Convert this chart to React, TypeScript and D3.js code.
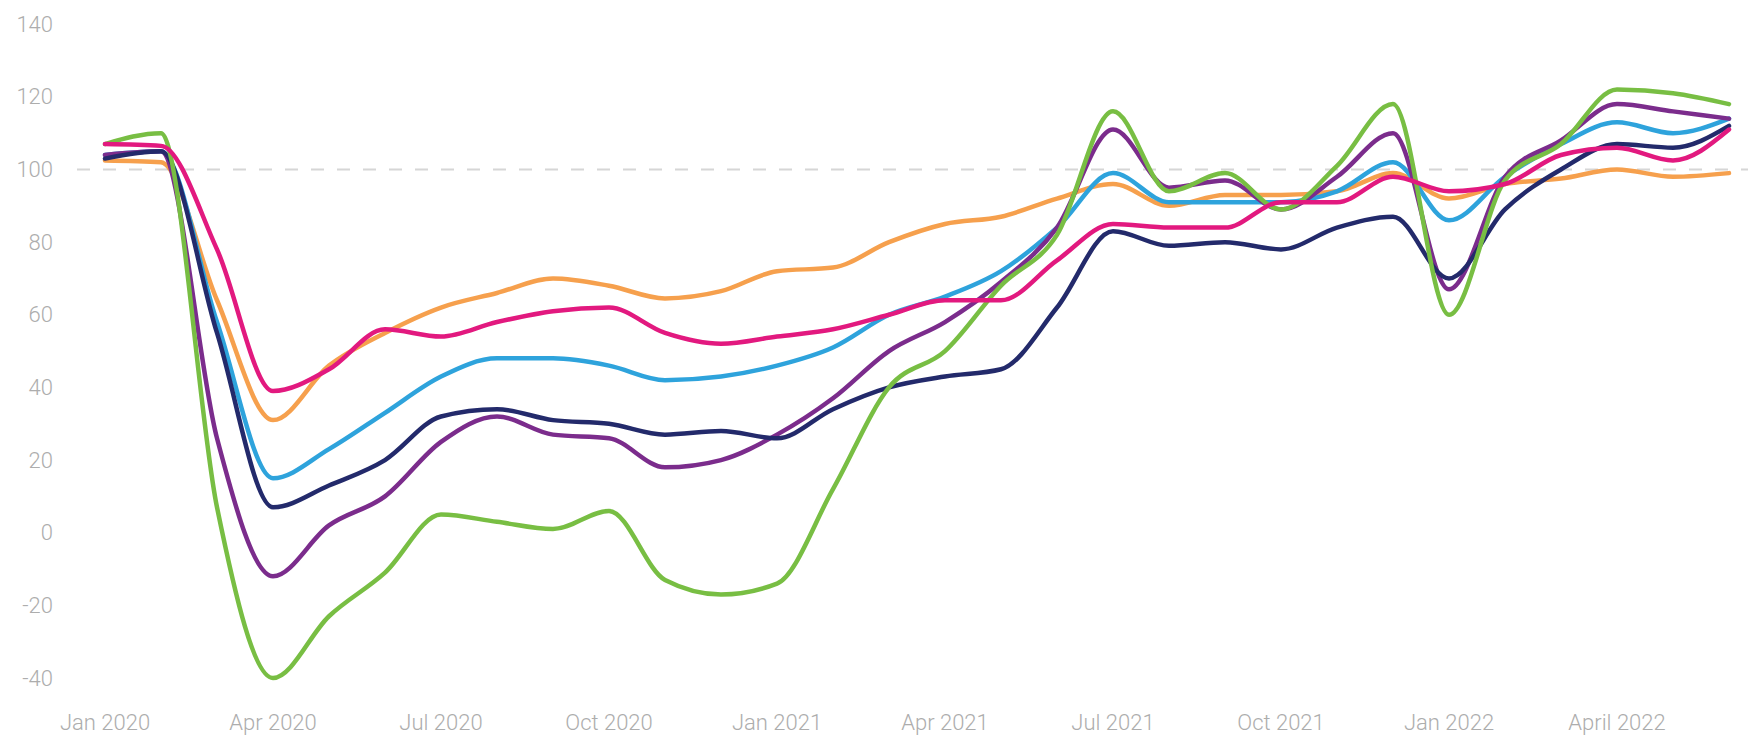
import React from "react";
import * as d3 from "d3";

const months: string[] = [
  "2020-01","2020-02","2020-03","2020-04","2020-05","2020-06","2020-07","2020-08","2020-09","2020-10","2020-11","2020-12",
  "2021-01","2021-02","2021-03","2021-04","2021-05","2021-06","2021-07","2021-08","2021-09","2021-10","2021-11","2021-12",
  "2022-01","2022-02","2022-03","2022-04","2022-05","2022-06",
];

const orange = [102.5,102,64,31,46,55,62,66,70,68,64.5,66.5,72,73,80,85,87,92,96,90,93,93,94,99,92,96,97.5,100,98,99];
const blue = [104,105,58,15,23,33,43,48,48,46,42,43,46,51,60,65,72,84,99,91,91,91,94,102,86,98,107,113,110,114];
const purple = [104,105,26,-12,2,10,25,32,27,26,18,20,27,37,50,58,69,84,111,95,97,89,98,110,67,98,108,118,116,114];
const navy = [103,105,55,7,13,20,32,34,31,30,27,28,26,34,40,43,45,62,83,79,80,78,84,87,70,89,100,107,106,112];
const green = [107,110,7,-40,-23,-11,5,3,1,6,-13,-17,-14,12,40,50,68,82,116,94,99,89,101,118,60,97,107,122,121,118];
const pink = [107,106.5,78,39,45,56,54,58,61,62,55,52,54,56,60,64,64,75,85,84,84,91,91,98,94,96,104,106,102.5,111];

const yTicks = [140, 120, 100, 80, 60, 40, 20, 0, -20, -40];
const xTickMonths = ["2020-01","2020-04","2020-07","2020-10","2021-01","2021-04","2021-07","2021-10","2022-01","2022-04"];
const xTickLabels = ["Jan 2020","Apr 2020","Jul 2020","Oct 2020","Jan 2021","Apr 2021","Jul 2021","Oct 2021","Jan 2022","April 2022"];
const referenceValue = 100;

const seriesList = [
  { name: "orange", values: orange, color: "#f6a04d" },
  { name: "blue", values: blue, color: "#2ea3dc" },
  { name: "purple", values: purple, color: "#7b2c8c" },
  { name: "navy", values: navy, color: "#232a6b" },
  { name: "green", values: green, color: "#78be43" },
  { name: "pink", values: pink, color: "#e2197f" },
];

const W = 1748;
const H = 737;

export default function App() {
  const x = d3.scalePoint<string>().domain(months).range([105, 1729]);
  const y = d3.scaleLinear().domain([-40, 140]).range([678, 24.2]);

  const line = d3
    .line<number>()
    .x((_, i) => x(months[i]) as number)
    .y((d) => y(d))
    .curve(d3.curveMonotoneX);

  const font = "Roboto, 'Noto Sans', sans-serif";

  return (
    <svg
      width={W}
      height={H}
      style={{ position: "absolute", left: 0, top: 0, background: "#fff" }}
    >
      <rect x={0} y={0} width={W} height={H} fill="#fff" />
      {yTicks.map((t) => (
        <text
          key={t}
          x={53}
          y={y(t)}
          textAnchor="end"
          dominantBaseline="central"
          fontFamily={font}
          fontWeight={300}
          fontSize={22}
          fill="#adadad"
        >
          {t}
        </text>
      ))}
      <line
        x1={77}
        x2={W}
        y1={y(referenceValue)}
        y2={y(referenceValue)}
        stroke="#d6d6d6"
        strokeWidth={2}
        strokeDasharray="13 13"
      />
      {xTickMonths.map((m, i) => (
        <text
          key={m}
          x={x(m) as number}
          y={722}
          textAnchor="middle"
          dominantBaseline="central"
          fontFamily={font}
          fontWeight={300}
          fontSize={22}
          fill="#adadad"
        >
          {xTickLabels[i]}
        </text>
      ))}
      {seriesList.map((s) => (
        <path
          key={s.name}
          d={line(s.values) || ""}
          fill="none"
          stroke={s.color}
          strokeWidth={4.5}
          strokeLinejoin="round"
          strokeLinecap="round"
        />
      ))}
    </svg>
  );
}
